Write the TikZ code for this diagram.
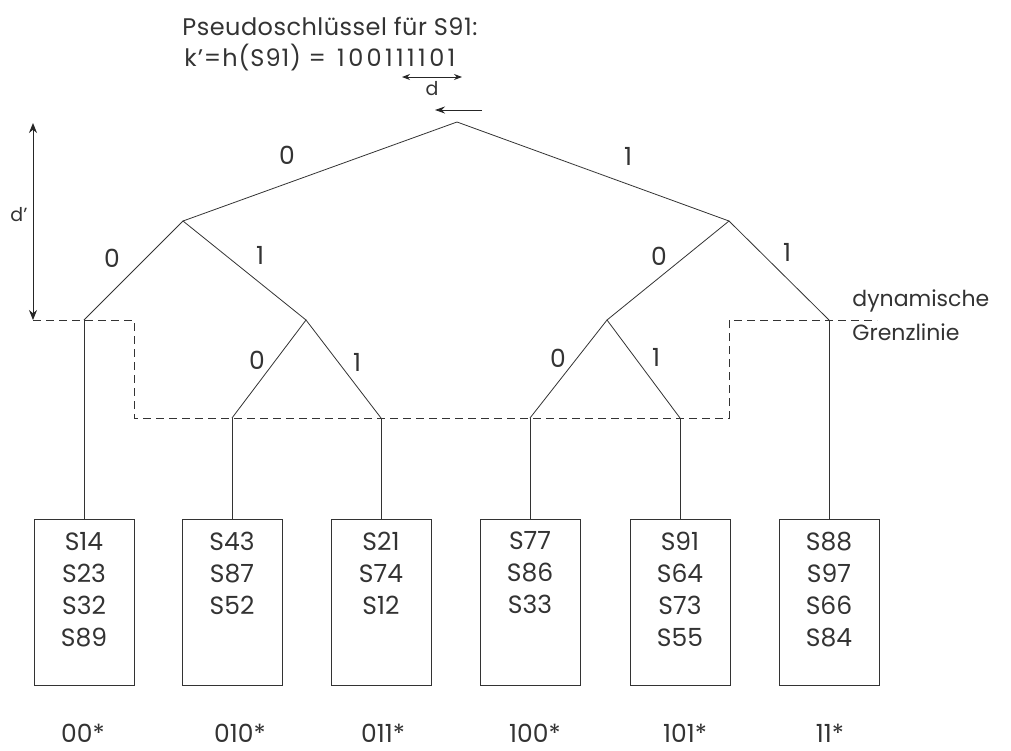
\documentclass[tikz,border=0pt]{standalone}
\usepackage{fontspec}
\setmainfont{Poppins}
\usetikzlibrary{arrows.meta}
\begin{document}
\begin{tikzpicture}[x=1pt,y=-1pt,
  line width=0.9pt, draw=black!80, text=black!80,
  edge/.style={draw=black!80, line width=0.8pt},
  border/.style={draw=black!80, line width=0.9pt, dash pattern=on 8pt off 5pt},
  box/.style={draw=black!80, line width=1pt, minimum width=100pt, minimum height=166pt, inner sep=0pt},
  boxtext/.style={anchor=north, align=center, inner sep=0pt, font=\fontsize{25}{32}\selectfont},
  bit/.style={inner sep=0pt, font=\fontsize{25}{30}\selectfont},
  code/.style={anchor=base, inner sep=0pt, font=\fontsize{25}{30}\selectfont},
  toptext/.style={anchor=base west, inner sep=0pt, font=\fontsize{24}{28}\selectfont},
  small/.style={inner sep=0pt, font=\fontsize{19}{22}\selectfont},
  arr/.style={draw=black!85, line width=1pt},
]
\useasboundingbox (0,0) rectangle (1011,750);

% top text
\node[toptext] (t1) at (182,35) {\addfontfeatures{LetterSpace=2}Pseudoschlüssel für S91:};
\node[toptext] (t2) at (184,66) {\addfontfeatures{LetterSpace=4}k’=h(S91) = \,{\addfontfeatures{LetterSpace=14}100111101}};

% d arrow
\coordinate (dl) at (402,77);
\coordinate (dr) at (462,77);
\draw[arr, {Stealth[length=8pt,width=6pt]}-{Stealth[length=8pt,width=6pt]}] (dl) -- (dr);
\node[small] (dlab) at (432,89) {d};

% left arrow above root
\coordinate (as) at (482,110);
\coordinate (ae) at (435,110);
\draw[arr, -{Stealth[length=10pt,width=7pt]}] (as) -- (ae);

% d' arrow
\coordinate (dt) at (33,123);
\coordinate (db) at (33,320);
\draw[arr, {Stealth[length=10pt,width=8pt]}-{Stealth[length=10pt,width=8pt]}] (dt) -- (db);
\node[small] (dplab) at (19,215) {d’};

% tree points
\coordinate (r) at (457,122);
\coordinate (n0) at (183,221);
\coordinate (n1) at (729,221);
\coordinate (n00) at (84,320);
\coordinate (n01) at (306,320);
\coordinate (n10) at (607,320);
\coordinate (n11) at (829,320);
\coordinate (n010) at (232,418);
\coordinate (n011) at (381,418);
\coordinate (n100) at (530,418);
\coordinate (n101) at (680,418);

% dynamic border
\coordinate (g1) at (33,320);
\coordinate (g2) at (134,320);
\coordinate (g3) at (134,418);
\coordinate (g4) at (729,418);
\coordinate (g5) at (729,320);
\coordinate (g6) at (877,320);
\draw[border] (g1) -- (g2) -- (g3) -- (g4) -- (g5) -- (g6);

% edges
\draw[edge] (n0) -- (r) -- (n1);
\draw[edge] (n00) -- (n0) -- (n01);
\draw[edge] (n10) -- (n1) -- (n11);
\draw[edge] (n010) -- (n01) -- (n011);
\draw[edge] (n100) -- (n10) -- (n101);

% bit labels
\node[bit] (l0) at (287,155) {0};
\node[bit] (l1) at (628,156) {1};
\node[bit] (l00) at (112,258) {0};
\node[bit] (l01) at (260,255) {1};
\node[bit] (l10) at (659,256) {0};
\node[bit] (l11) at (787,252) {1};
\node[bit] (l010) at (257,360) {0};
\node[bit] (l011) at (357,362) {1};
\node[bit] (l100) at (558,358) {0};
\node[bit] (l101) at (656,357) {1};

% side label
\node[anchor=west, align=left, inner sep=0pt, font=\fontsize{22}{34}\selectfont] (dyn) at (852,315) {dynamische\\Grenzlinie};

% buckets
\node[box] (b1) at (84,602) {};
\node[box] (b2) at (232,602) {};
\node[box] (b3) at (381,602) {};
\node[box] (b4) at (530,602) {};
\node[box] (b5) at (680,602) {};
\node[box] (b6) at (829,602) {};

\node[boxtext] (s1) at ([yshift=-13pt]b1.north) {S14\\S23\\S32\\S89};
\node[boxtext] (s2) at ([yshift=-13pt]b2.north) {S43\\S87\\S52};
\node[boxtext] (s3) at ([yshift=-13pt]b3.north) {S21\\S74\\S12};
\node[boxtext] (s4) at ([yshift=-13pt]b4.north) {S77\\S86\\S33};
\node[boxtext] (s5) at ([yshift=-13pt]b5.north) {S91\\S64\\S73\\S55};
\node[boxtext] (s6) at ([yshift=-13pt]b6.north) {S88\\S97\\S66\\S84};

\draw[edge] (n00) -- (b1.north);
\draw[edge] (n010) -- (b2.north);
\draw[edge] (n011) -- (b3.north);
\draw[edge] (n100) -- (b4.north);
\draw[edge] (n101) -- (b5.north);
\draw[edge] (n11) -- (b6.north);

% codes
\node[code] (c1) at (83,742) {00*};
\node[code] (c2) at (240,742) {010*};
\node[code] (c3) at (383,742) {011*};
\node[code] (c4) at (535,742) {100*};
\node[code] (c5) at (685,742) {101*};
\node[code] (c6) at (830,742) {11*};
\end{tikzpicture}
\end{document}
